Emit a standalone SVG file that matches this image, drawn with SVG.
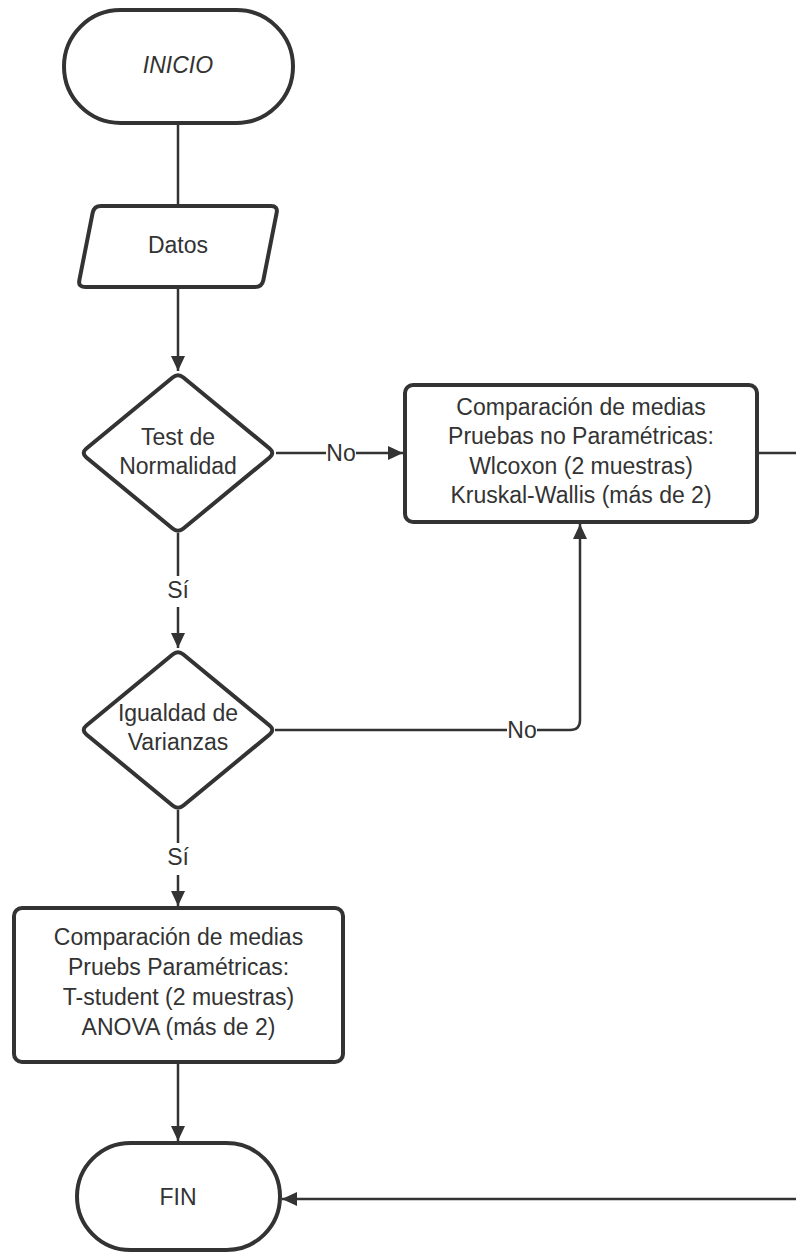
<svg xmlns="http://www.w3.org/2000/svg" width="796" height="1253" viewBox="0 0 796 1253">
<style>
.shape{fill:#fff;stroke:#333;stroke-width:4;stroke-linejoin:round}
.conn{fill:none;stroke:#333;stroke-width:2.5}
.t{font-family:"Liberation Sans",Arial,sans-serif;font-size:23px;fill:#333;text-anchor:middle}
.lbl{fill:#fff}
</style>
<defs>
<marker id="arr" markerUnits="userSpaceOnUse" markerWidth="16" markerHeight="14" refX="15" refY="7" orient="auto">
<path d="M0,0 L15,7 L0,14 z" fill="#333"/>
</marker>
</defs>
<rect width="796" height="1253" fill="#fff"/>
<g id="connectors">
<line class="conn" x1="178" y1="123" x2="178" y2="206"/>
<line class="conn" x1="178" y1="287" x2="178" y2="371" marker-end="url(#arr)"/>
<line class="conn" x1="276" y1="453" x2="403" y2="453" marker-end="url(#arr)"/>
<line class="conn" x1="178" y1="533" x2="178" y2="576"/>
<line class="conn" x1="178" y1="607" x2="178" y2="648" marker-end="url(#arr)"/>
<path class="conn" d="M275,730 L570,730 Q580,730 580,720 L580,524" marker-end="url(#arr)"/>
<line class="conn" x1="178" y1="810" x2="178" y2="843"/>
<line class="conn" x1="178" y1="875" x2="178" y2="906" marker-end="url(#arr)"/>
<line class="conn" x1="178" y1="1062" x2="178" y2="1141" marker-end="url(#arr)"/>
<line class="conn" x1="757" y1="453" x2="796" y2="453"/>
<line class="conn" x1="796" y1="1199" x2="282" y2="1199" marker-end="url(#arr)"/>
<rect class="lbl" x="326" y="442" width="30" height="22"/>
<text class="t" x="341" y="461">No</text>
<text class="t" x="178" y="598">Sí</text>
<rect class="lbl" x="507" y="719" width="30" height="22"/>
<text class="t" x="522" y="738">No</text>
<text class="t" x="178" y="865">Sí</text>
</g>
<g id="inicio">
<rect class="shape" x="64" y="10" width="229" height="113" rx="56.5"/>
<text class="t" x="178" y="73" font-style="italic">INICIO</text>
</g>
<g id="datos">
<path class="shape" d="M101,206 L271,206 Q278,206 276.64,212.87 L263.36,280.13 Q262,287 255,287 L85,287 Q78,287 79.36,280.13 L92.64,212.87 Q94,206 101,206 Z"/>
<text class="t" x="178" y="253">Datos</text>
</g>
<g id="test-normalidad">
<path class="shape" d="M172.6,377.45 Q178,373 183.4,377.45 L269.6,448.55 Q275,453 269.6,457.45 L183.4,528.55 Q178,533 172.6,528.55 L86.4,457.45 Q81,453 86.4,448.55 Z"/>
<text class="t" x="178" y="445">Test de</text>
<text class="t" x="178" y="474">Normalidad</text>
</g>
<g id="no-parametricas">
<rect class="shape" x="405" y="385" width="352" height="137" rx="8"/>
<text class="t" x="581" y="415">Comparación de medias</text>
<text class="t" x="581" y="444">Pruebas no Paramétricas:</text>
<text class="t" x="581" y="474">Wlcoxon (2 muestras)</text>
<text class="t" x="581" y="503">Kruskal-Wallis (más de 2)</text>
</g>
<g id="igualdad-varianzas">
<path class="shape" d="M172.6,654.45 Q178,650 183.4,654.45 L269.6,725.55 Q275,730 269.6,734.45 L183.4,805.55 Q178,810 172.6,805.55 L86.4,734.45 Q81,730 86.4,725.55 Z"/>
<text class="t" x="178" y="721">Igualdad de</text>
<text class="t" x="178" y="750">Varianzas</text>
</g>
<g id="parametricas">
<rect class="shape" x="14" y="908" width="329" height="154" rx="8"/>
<text class="t" x="178.5" y="945">Comparación de medias</text>
<text class="t" x="178.5" y="975">Pruebs Paramétricas:</text>
<text class="t" x="178.5" y="1005">T-student (2 muestras)</text>
<text class="t" x="178.5" y="1035">ANOVA (más de 2)</text>
</g>
<g id="fin">
<rect class="shape" x="77" y="1143" width="203" height="107" rx="53.5"/>
<text class="t" x="178" y="1205">FIN</text>
</g>
</svg>
